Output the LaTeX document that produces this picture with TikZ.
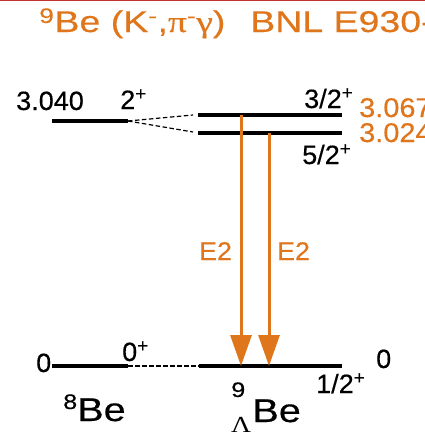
\documentclass[tikz,border=0pt]{standalone}
\usepackage{fontspec}
\setmainfont{Liberation Sans}
\newfontfamily\grk{Liberation Serif}
\usetikzlibrary{arrows.meta}
\definecolor{lorange}{RGB}{224,118,28}
\definecolor{topred}{RGB}{190,50,50}
\newcommand{\heavier}{\addfontfeature{FakeBold=0.35}}
\begin{document}
\begin{tikzpicture}[x=1pt,y=-1pt,
  lvl/.style={line width=3.5pt},
  dsh/.style={line width=1.2pt,dash pattern=on 4.5pt off 2.5pt},
  gam/.style={lorange,line width=3pt,-{Triangle[width=21pt,length=31pt]}},
  lab/.style={anchor=base west,inner sep=0pt,xscale=1.02,font=\fontsize{26.5}{26.5}\selectfont\heavier},
  olab/.style={lab,text=lorange,xscale=1.05,font=\fontsize{27}{27}\selectfont\heavier},
  elab/.style={anchor=base west,inner sep=0pt,xscale=1.05,text=lorange,font=\fontsize{25.5}{25.5}\selectfont\heavier},
  ttl/.style={anchor=base west,inner sep=0pt,xscale=1.25,text=lorange,font=\fontsize{30}{30}\selectfont\heavier},
  nuc/.style={anchor=base west,inner sep=0pt,xscale=1.2,font=\fontsize{33}{33}\selectfont\heavier}]
\useasboundingbox (0,0) rectangle (425,434);
\clip (0,0) rectangle (425,434);
\fill[white] (0,0) rectangle (425,434);
\coordinate (r1) at (0,0.7); \coordinate (r2) at (425,0.7);
\draw[topred,line width=1.4pt] (r1) -- (r2);
% title
\node[ttl] (t1) at (39,32) {\textsuperscript{9}Be (K\textsuperscript{-},{\grk\heavier π}\textsuperscript{-}{\grk\heavier γ})};
\node[ttl] (t2) at (250,32) {BNL E930-1};
% levels
\coordinate (a1) at (52,121); \coordinate (a2) at (128,121);
\coordinate (b1) at (198,115); \coordinate (b2) at (342,115);
\coordinate (c1) at (198,133); \coordinate (c2) at (342,133);
\coordinate (g1) at (52,366); \coordinate (g2) at (128,366);
\coordinate (h1) at (199,366); \coordinate (h2) at (342,366);
\coordinate (db) at (193,115); \coordinate (dc) at (193,132);
\draw[lvl] (a1) -- (a2);
\draw[lvl] (b1) -- (b2);
\draw[lvl] (c1) -- (c2);
\draw[lvl] (g1) -- (g2);
\draw[lvl] (h1) -- (h2);
\draw[dsh] (a2) -- (db);
\draw[dsh] (a2) -- (dc);
\draw[dsh] (g2) -- (h1);
% gamma transitions
\coordinate (s1) at (241,115); \coordinate (e1) at (241,366);
\coordinate (s2) at (269,133); \coordinate (e2) at (269,366);
\draw[gam] (s1) -- (e1);
\draw[gam] (s2) -- (e2);
\node[elab] (E2a) at (199,260) {E2};
\node[elab] (E2b) at (277,260) {E2};
% labels
\node[lab] (l3040) at (16,110) {3.040};
\node[lab] (l2p) at (120,109) {2\textsuperscript{+}};
\node[lab] (l32) at (304,108) {3/2\textsuperscript{+}};
\node[olab] (l3067) at (359,117) {3.067};
\node[olab] (l3024) at (359,142) {3.024};
\node[lab] (l52) at (302,164) {5/2\textsuperscript{+}};
\node[lab] (l0a) at (36,372) {0};
\node[lab] (l0p) at (122,361) {0\textsuperscript{+}};
\node[lab] (l0b) at (376,368) {0};
\node[lab] (l12) at (316,393) {1/2\textsuperscript{+}};
\node[nuc] (n8) at (63,421) {\raisebox{12pt}{\fontsize{21}{21}\selectfont\heavier 8}Be};
\node[nuc] (n9) at (231,422) {\rlap{\raisebox{25pt}{\fontsize{21}{21}\selectfont\heavier 9}}\raisebox{-10pt}{\fontsize{23}{23}\selectfont\grk Λ}\kern1pt Be};
\end{tikzpicture}
\end{document}
